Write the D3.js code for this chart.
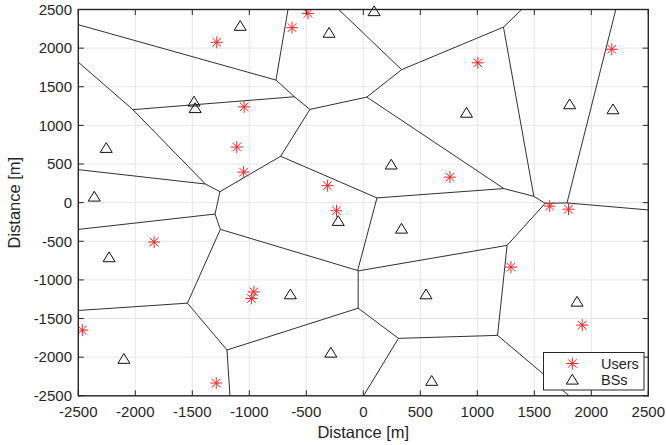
<html>
<head>
<script src="https://d3js.org/d3.v7.min.js"></script>
<style>
  body { margin: 0; background: #fff; }
  text { font-family: "Liberation Sans", Arial, sans-serif; fill: #262626; }
</style>
</head>
<body>
<svg id="plot" width="666" height="445"></svg>
<script>
// base stations (triangles)
const bsX = [-1080, -300, 95, -1485, -1475, 905, 1810, 2190, -2255, -2360, 245, -220, 335, -2230, -640, 550, -285, 600, -2100, 1875];
const bsY = [2290, 2200, 2480, 1310, 1225, 1165, 1275, 1210, 710, 80, 495, -235, -335, -705, -1185, -1185, -1940, -2305, -2020, -1280];
// users (red asterisks)
const userX = [-1285, -1045, -485, -625, 1005, 2180, -1110, -1050, -1835, -315, -235, 760, 1635, 1800, 1295, -2465, -960, -980, -1290, 1920];
const userY = [2075, 1240, 2450, 2265, 1810, 1985, 720, 395, -510, 220, -105, 330, -45, -85, -835, -1650, -1155, -1240, -2335, -1585];
const ticks = [-2500, -2000, -1500, -1000, -500, 0, 500, 1000, 1500, 2000, 2500];
const legendLabels = ["Users", "BSs"];

const svg = d3.select("#plot");
const mLeft = 78.3, mRight = 648.3, mTop = 9.5, mBottom = 395.8;
const x = d3.scaleLinear().domain([-2500, 2500]).range([mLeft, mRight]);
const y = d3.scaleLinear().domain([-2500, 2500]).range([mBottom, mTop]);

svg.append("clipPath").attr("id", "clip")
  .append("rect").attr("x", mLeft).attr("y", mTop)
  .attr("width", mRight - mLeft).attr("height", mBottom - mTop);

// grid
const grid = svg.append("g");
grid.selectAll("line.gx").data(ticks).join("line")
  .attr("class", "gx")
  .attr("x1", d => x(d)).attr("x2", d => x(d))
  .attr("y1", mTop).attr("y2", mBottom)
  .attr("stroke", "#e6e6e6").attr("stroke-width", 1);
grid.selectAll("line.gy").data(ticks).join("line")
  .attr("class", "gy")
  .attr("y1", d => y(d)).attr("y2", d => y(d))
  .attr("x1", mLeft).attr("x2", mRight)
  .attr("stroke", "#e6e6e6").attr("stroke-width", 1);

// voronoi of the base stations, in data units
const pts = bsX.map((v, i) => [v, bsY[i]]);
const vor = d3.Delaunay.from(pts).voronoi([-100000, -100000, 100000, 100000]);
const p = d3.path();
const ctx = {
  moveTo: (a, b) => p.moveTo(x(a), y(b)),
  lineTo: (a, b) => p.lineTo(x(a), y(b)),
  closePath: () => p.closePath()
};
vor.render(ctx);
svg.append("path")
  .attr("clip-path", "url(#clip)")
  .attr("d", p.toString())
  .attr("fill", "none")
  .attr("stroke", "#1a1a1a")
  .attr("stroke-width", 0.9);

// markers
const starPath = "M-6,0L6,0M0,-6L0,6M-4.3,-4.3L4.3,4.3M-4.3,4.3L4.3,-4.3";
const triPath = "M0,-5.2L6,4.6L-6,4.6Z";

const users = svg.append("g").attr("clip-path", "url(#clip)");
users.selectAll("path").data(userX).join("path")
  .attr("transform", (d, i) => "translate(" + x(d) + "," + y(userY[i]) + ")")
  .attr("d", starPath)
  .attr("fill", "none")
  .attr("stroke", "#ff2020")
  .attr("stroke-width", 1);

const bs = svg.append("g");
bs.selectAll("path").data(bsX).join("path")
  .attr("transform", (d, i) => "translate(" + x(d) + "," + y(bsY[i]) + ")")
  .attr("d", triPath)
  .attr("fill", "none")
  .attr("stroke", "#111")
  .attr("stroke-width", 1);

// axes box + ticks on all four sides
const axes = svg.append("g");
axes.append("rect")
  .attr("x", mLeft).attr("y", mTop)
  .attr("width", mRight - mLeft).attr("height", mBottom - mTop)
  .attr("fill", "none").attr("stroke", "#262626").attr("stroke-width", 1.4);
const tl = 5.5;
ticks.forEach(t => {
  axes.append("line").attr("x1", x(t)).attr("x2", x(t)).attr("y1", mBottom).attr("y2", mBottom - tl);
  axes.append("line").attr("x1", x(t)).attr("x2", x(t)).attr("y1", mTop).attr("y2", mTop + tl);
  axes.append("line").attr("y1", y(t)).attr("y2", y(t)).attr("x1", mLeft).attr("x2", mLeft + tl);
  axes.append("line").attr("y1", y(t)).attr("y2", y(t)).attr("x1", mRight).attr("x2", mRight - tl);
});
axes.selectAll("line").attr("stroke", "#262626").attr("stroke-width", 1);

// tick labels
svg.append("g").selectAll("text").data(ticks).join("text")
  .attr("x", d => x(d)).attr("y", 417)
  .attr("text-anchor", "middle")
  .attr("font-size", 15)
  .text(d => d);
svg.append("g").selectAll("text").data(ticks).join("text")
  .attr("x", 72).attr("y", d => y(d) + 5.3)
  .attr("text-anchor", "end")
  .attr("font-size", 15)
  .text(d => d);

// axis labels
svg.append("text")
  .attr("x", (mLeft + mRight) / 2).attr("y", 438)
  .attr("text-anchor", "middle").attr("font-size", 16.5)
  .text("Distance [m]");
svg.append("text")
  .attr("transform", "translate(20," + ((mTop + mBottom) / 2) + ") rotate(-90)")
  .attr("text-anchor", "middle").attr("font-size", 16.5)
  .text("Distance [m]");

// legend
const legend = svg.append("g");
legend.append("rect")
  .attr("x", 543.5).attr("y", 352.5).attr("width", 100.5).attr("height", 37.5)
  .attr("fill", "#fff").attr("stroke", "#262626").attr("stroke-width", 1);
legend.append("path")
  .attr("transform", "translate(572.3,363.5)")
  .attr("d", starPath).attr("fill", "none").attr("stroke", "#ff2020");
legend.append("path")
  .attr("transform", "translate(572.3,379.5)")
  .attr("d", triPath).attr("fill", "none").attr("stroke", "#111");
legend.selectAll("text.lg").data(legendLabels).join("text")
  .attr("x", 601).attr("y", (d, i) => 368.5 + i * 16)
  .attr("font-size", 14.5)
  .text(d => d);
</script>
</body>
</html>
